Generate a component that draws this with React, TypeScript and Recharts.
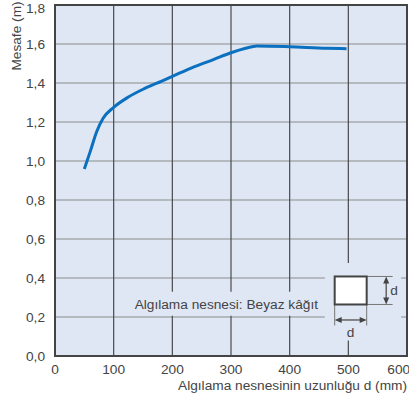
import { LineChart, Line, XAxis, YAxis, CartesianGrid, ReferenceArea, ReferenceDot, Label } from 'recharts';

const COLORS = {
  bg: "#dfe7f4",
  line: "#0b70bf",
  gridH: "#8c8c8c",
  gridV: "#4a4a4a",
  border: "#444444",
  text: "#444444"
};

// object length d (mm) and sensing distance (m)
const lengths = [50, 60, 71, 82, 100, 125, 153, 182, 200, 238, 270, 300, 325, 344, 400, 463, 497];
const distances = [0.959, 1.048, 1.15, 1.219, 1.275, 1.328, 1.372, 1.41, 1.434, 1.484, 1.52, 1.555, 1.578, 1.59, 1.586, 1.578, 1.576];

const xTicks = [0, 100, 200, 300, 400, 500, 600];
const yTicks = [0, 0.2, 0.4, 0.6, 0.8, 1.0, 1.2, 1.4, 1.6, 1.8];

const data = lengths.map((d, i) => ({ d, m: distances[i] }));

const FONT = "'Liberation Sans', Arial, sans-serif";
const FS = 13.7;

const fmt = (v: number) => v.toFixed(1).replace('.', ',');

// little square "d x d" sketch, drawn around the dot position
const ObjectIcon = (props: any) => {
  const { cx, cy } = props;
  if (cx == null || cy == null) return null;
  const s = COLORS.border;
  return (
    <g>
      <line x1={cx + 16} y1={cy - 14} x2={cx + 42} y2={cy - 14} stroke="#777" strokeWidth={1} />
      <line x1={cx + 16} y1={cy + 14} x2={cx + 42} y2={cy + 14} stroke="#777" strokeWidth={1} />
      <line x1={cx - 16} y1={cy + 14} x2={cx - 16} y2={cy + 35} stroke="#777" strokeWidth={1} />
      <line x1={cx + 16} y1={cy + 14} x2={cx + 16} y2={cy + 35} stroke="#777" strokeWidth={1} />
      <rect x={cx - 16} y={cy - 14} width={32} height={28} fill="#ffffff" stroke={s} strokeWidth={2} />
      {/* vertical arrow */}
      <line x1={cx + 35.5} y1={cy - 9} x2={cx + 35.5} y2={cy + 9} stroke={s} strokeWidth={1.2} />
      <path d={`M${cx + 35.5},${cy - 14} L${cx + 32.5},${cy - 7} L${cx + 38.5},${cy - 7} Z`} fill={s} />
      <path d={`M${cx + 35.5},${cy + 14} L${cx + 32.5},${cy + 7} L${cx + 38.5},${cy + 7} Z`} fill={s} />
      <text x={cx + 39.5} y={cy} dominantBaseline="central" fontSize={FS} fontFamily={FONT} fill={COLORS.text}>d</text>
      {/* horizontal arrow */}
      <line x1={cx - 10} y1={cy + 29.5} x2={cx + 10} y2={cy + 29.5} stroke={s} strokeWidth={1.2} />
      <path d={`M${cx - 16},${cy + 29.5} L${cx - 9},${cy + 26.5} L${cx - 9},${cy + 32.5} Z`} fill={s} />
      <path d={`M${cx + 16},${cy + 29.5} L${cx + 9},${cy + 26.5} L${cx + 9},${cy + 32.5} Z`} fill={s} />
      <text x={cx} y={cy + 42} textAnchor="middle" dominantBaseline="central" fontSize={FS} fontFamily={FONT} fill={COLORS.text}>d</text>
    </g>
  );
};

export default function App() {
  return (
    <div style={{ position: 'absolute', left: 0, top: 0, width: 409, height: 401, background: '#fff' }}>
      <LineChart width={409} height={401} data={data} margin={{ top: 5, right: 2, bottom: 11, left: 0 }}>
        <CartesianGrid horizontal={true} vertical={false} stroke={COLORS.gridH} strokeWidth={1.2} fill={COLORS.bg} fillOpacity={1} />
        <CartesianGrid horizontal={false} vertical={true} stroke={COLORS.gridV} strokeWidth={1.2} />
        <XAxis
          dataKey="d"
          type="number"
          domain={[0, 600]}
          ticks={xTicks}
          height={34}
          axisLine={{ stroke: COLORS.border, strokeWidth: 2 }}
          tickLine={false}
          tickMargin={2}
          tick={{ fill: COLORS.text, fontSize: FS, fontFamily: FONT }}
        >
          <Label
            value="Algılama nesnesinin uzunluğu d (mm)"
            position="insideBottomRight"
            offset={0}
            fill={COLORS.text}
            fontSize={FS}
            fontFamily={FONT}
          />
        </XAxis>
        <YAxis
          type="number"
          domain={[0, 1.8]}
          ticks={yTicks}
          width={55}
          axisLine={{ stroke: COLORS.border, strokeWidth: 2 }}
          tickLine={false}
          tickMargin={4}
          tickFormatter={fmt}
          tick={{ fill: COLORS.text, fontSize: FS, fontFamily: FONT }}
        >
          <Label
            value="Mesafe (m)"
            content={() => (
              <text
                x={16}
                y={36}
                transform="rotate(-90 16 36)"
                textAnchor="middle"
                dominantBaseline="central"
                fontSize={FS}
                fontFamily={FONT}
                fill={COLORS.text}
              >
                Mesafe (m)
              </text>
            )}
          />
        </YAxis>
        <ReferenceArea x1={0} x2={600} y1={0} y2={1.8} fill="none" stroke={COLORS.border} strokeWidth={2} ifOverflow="visible" />
        <ReferenceArea
          x1={128}
          x2={456}
          y1={0.206}
          y2={0.33}
          fill={COLORS.bg}
          fillOpacity={1}
          stroke="none"
          label={{ value: "Algılama nesnesi: Beyaz kâğıt", position: 'center', fill: COLORS.text, fontSize: FS, fontFamily: FONT }}
        />
        <ReferenceArea x1={460} x2={590} y1={0.08} y2={0.477} fill={COLORS.bg} fillOpacity={1} stroke="none" />
        <ReferenceDot x={504} y={0.336} r={1} shape={ObjectIcon} />
        <Line
          type="monotone"
          dataKey="m"
          stroke={COLORS.line}
          strokeWidth={3}
          dot={false}
          activeDot={false}
          isAnimationActive={false}
        />
      </LineChart>
    </div>
  );
}
